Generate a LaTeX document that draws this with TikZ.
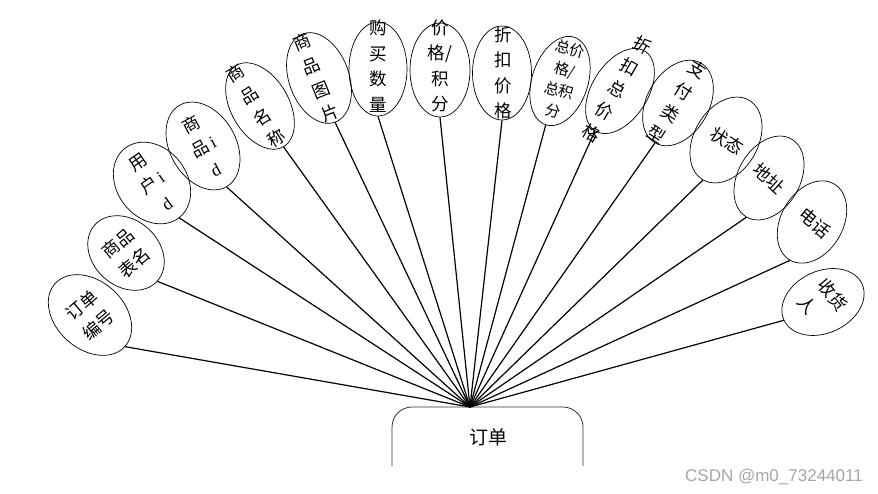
\documentclass[tikz,border=0pt]{standalone}
\usepackage{fontspec}
\setmainfont{Liberation Serif}
\newfontfamily\cjk{Noto Sans CJK SC}
\newfontfamily\wmfont{Liberation Sans}
\newcommand\latn[1]{{\rmfamily #1}}
\usetikzlibrary{shapes.geometric}
\begin{document}
\begin{tikzpicture}[x=1pt,y=-1pt,
  attr/.style={draw=black, line width=0.7pt, ellipse, inner sep=0pt},
  lbl/.style={align=center, font=\cjk\fontsize{17.5}{25.5}\selectfont, inner sep=0pt},
  lblsm/.style={align=center, font=\cjk\fontsize{15}{21.5}\selectfont, inner sep=0pt},
  conn/.style={line width=1.2pt, black},
]
\useasboundingbox (0,0) rectangle (878,493);
\fill[white] (0,0) rectangle (878,493);

% attribute ellipses
\node[attr, minimum width=68pt, minimum height=94pt, rotate=48]  (e1)  at (90,315)  {};
\node[attr, minimum width=66pt, minimum height=84pt, rotate=48]  (e2)  at (126,253) {};
\node[attr, minimum width=70pt, minimum height=88pt, rotate=38]  (e3)  at (152,183) {};
\node[attr, minimum width=66pt, minimum height=94pt, rotate=30]  (e4)  at (203,146) {};
\node[attr, minimum width=58pt, minimum height=94pt, rotate=30]  (e5)  at (260,106) {};
\node[attr, minimum width=60pt, minimum height=94pt, rotate=20]  (e6)  at (319,78)  {};
\node[attr, minimum width=58pt, minimum height=94pt, rotate=0]   (e7)  at (378,69)  {};
\node[attr, minimum width=60pt, minimum height=94pt, rotate=0]   (e8)  at (440,70)  {};
\node[attr, minimum width=59pt, minimum height=94pt, rotate=0]   (e9)  at (502,73)  {};
\node[attr, minimum width=56pt, minimum height=92pt, rotate=-18] (e10) at (560,81)  {};
\node[attr, minimum width=56pt, minimum height=94pt, rotate=-32] (e11) at (620,91)  {};
\node[attr, minimum width=62pt, minimum height=92pt, rotate=-30] (e12) at (678,103) {};
\node[attr, minimum width=64pt, minimum height=92pt, rotate=-30] (e13) at (726,140) {};
\node[attr, minimum width=62pt, minimum height=90pt, rotate=-30] (e14) at (769,178) {};
\node[attr, minimum width=62pt, minimum height=88pt, rotate=-30] (e15) at (812,222) {};
\node[attr, minimum width=62pt, minimum height=86pt, rotate=-65] (e16) at (823,302) {};

% labels
\node[lbl, rotate=40]  (t1)  at (90,315)  {订单\\编号};
\node[lbl, rotate=40]  (t2)  at (126,253) {商品\\表名};
\node[lbl, rotate=35]  (t3)  at (152,183) {用\\户\,\latn{i}\\\latn{d}};
\node[lbl, rotate=28]  (t4)  at (203,146) {商\\品\,\latn{i}\\\latn{d}};
\node[lbl, rotate=32]  (t5)  at (256,106) {商\\品\\名\\称};
\node[lbl, rotate=22]  (t6)  at (316,78)  {商\\品\\图\\片};
\node[lbl]             (t7)  at (378,66)  {购\\买\\数\\量};
\node[lbl]             (t8)  at (440,66)  {价\\格/\\积\\分};
\node[lbl]             (t9)  at (503,73)  {折\\扣\\价\\格};
\node[lblsm, rotate=-15] (t10) at (562,80) {总价\\格/\\总积\\分};
\node[lbl, rotate=-30] (t11) at (617,89)  {折\\扣\\总\\价\\格};
\node[lbl, rotate=-32] (t12) at (677,102) {支\\付\\类\\型};
\node[lbl, rotate=-32] (t13) at (727,141) {状态};
\node[lbl, rotate=-42] (t14) at (769,178) {地址};
\node[lbl, rotate=-40] (t15) at (815,223) {电话};
\node[lbl, rotate=-50, align=left] (t16) at (823,303) {收货\\人};

% entity box (bottom clipped)
\begin{scope}
\clip (380,395) rectangle (600,465);
\node[draw=black!80, line width=0.8pt, rounded corners=20pt, minimum width=191pt,
      minimum height=78pt, inner sep=0pt] (order) at (487.5,446) {};
\end{scope}
\node[font=\cjk\fontsize{19}{22}\selectfont, inner sep=0pt] (ordtxt) at (488,437) {订单};

\coordinate (hub) at (470,407);

% connectors
\foreach \i in {1,...,16} \draw[conn] (e\i.south) -- (hub);

% watermark
\node[anchor=base east, font=\wmfont\fontsize{17}{20}\selectfont, text=black!35, inner sep=0pt]
  (wm) at (863,481) {CSDN @m0\_73244011};
\end{tikzpicture}
\end{document}
